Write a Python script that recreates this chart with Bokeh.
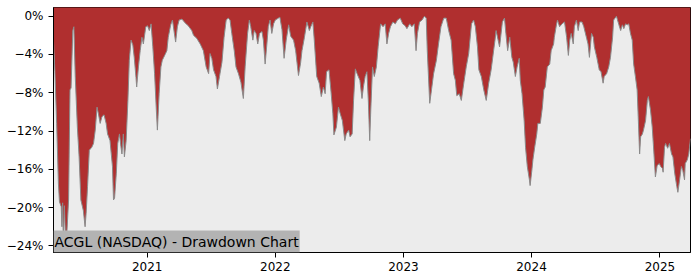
import pandas as pd
from bokeh.plotting import figure
from bokeh.models import ColumnDataSource, Range1d, FixedTicker, Label, DatetimeTickFormatter
from bokeh.embed import file_html
from bokeh.resources import INLINE

title_text = "ACGL (NASDAQ) - Drawdown Chart"

dates = [
    "2020-04-09", "2020-04-13", "2020-04-18", "2020-04-23", "2020-04-26", "2020-05-01", "2020-05-03",
    "2020-05-05", "2020-05-07", "2020-05-10", "2020-05-14", "2020-05-17", "2020-05-22", "2020-05-26",
    "2020-05-29", "2020-06-03", "2020-06-06", "2020-06-10", "2020-06-16", "2020-06-21", "2020-06-26",
    "2020-07-03", "2020-07-08", "2020-07-11", "2020-07-15", "2020-07-20", "2020-07-27", "2020-08-01",
    "2020-08-06", "2020-08-11", "2020-08-15", "2020-08-20", "2020-08-25", "2020-08-31", "2020-09-06",
    "2020-09-10", "2020-09-17", "2020-09-24", "2020-09-27", "2020-09-30", "2020-10-05", "2020-10-09",
    "2020-10-14", "2020-10-18", "2020-10-21", "2020-10-25", "2020-10-28", "2020-11-02", "2020-11-07",
    "2020-11-11", "2020-11-16", "2020-11-21", "2020-11-25", "2020-11-30", "2020-12-02", "2020-12-07",
    "2020-12-12", "2020-12-17", "2020-12-21", "2020-12-28",
    "2021-01-02", "2021-01-07", "2021-01-12", "2021-01-17", "2021-01-22", "2021-01-27", "2021-01-30",
    "2021-02-04", "2021-02-09", "2021-02-13", "2021-02-21", "2021-02-26", "2021-03-02", "2021-03-09",
    "2021-03-14", "2021-03-19", "2021-03-23", "2021-03-28", "2021-04-02", "2021-04-10", "2021-04-19",
    "2021-04-28", "2021-05-08", "2021-05-13", "2021-05-22", "2021-06-01", "2021-06-10", "2021-06-18",
    "2021-06-25", "2021-06-29", "2021-07-04", "2021-07-09", "2021-07-16", "2021-07-20", "2021-07-26",
    "2021-08-02", "2021-08-08", "2021-08-14", "2021-08-20", "2021-08-25", "2021-08-30", "2021-09-06",
    "2021-09-11", "2021-09-18", "2021-09-25", "2021-10-02", "2021-10-07", "2021-10-14", "2021-10-19",
    "2021-10-23", "2021-10-29", "2021-11-02", "2021-11-07", "2021-11-12", "2021-11-17", "2021-11-24",
    "2021-11-28", "2021-12-03", "2021-12-08", "2021-12-12", "2021-12-17", "2021-12-22", "2021-12-27",
    "2022-01-01", "2022-01-10", "2022-01-14", "2022-01-20", "2022-01-26", "2022-02-01", "2022-02-08",
    "2022-02-14", "2022-02-22", "2022-02-28", "2022-03-08", "2022-03-14", "2022-03-18", "2022-03-25",
    "2022-04-01", "2022-04-08", "2022-04-12", "2022-04-18", "2022-04-22", "2022-04-29", "2022-05-06",
    "2022-05-12", "2022-05-18", "2022-05-23", "2022-05-27", "2022-06-03", "2022-06-09", "2022-06-14",
    "2022-06-17", "2022-06-24", "2022-06-30", "2022-07-05", "2022-07-11", "2022-07-18", "2022-07-22",
    "2022-07-29", "2022-08-02", "2022-08-08", "2022-08-12", "2022-08-17", "2022-08-22", "2022-08-30",
    "2022-09-05", "2022-09-09", "2022-09-14", "2022-09-19", "2022-09-23", "2022-09-27", "2022-09-30",
    "2022-10-05", "2022-10-10", "2022-10-16", "2022-10-21", "2022-10-28", "2022-11-04", "2022-11-10",
    "2022-11-15", "2022-11-20", "2022-11-25", "2022-12-02", "2022-12-09", "2022-12-15", "2022-12-23",
    "2022-12-30", "2023-01-06", "2023-01-11", "2023-01-19", "2023-01-25", "2023-02-01", "2023-02-06",
    "2023-02-10", "2023-02-16", "2023-02-23", "2023-03-02", "2023-03-07", "2023-03-10", "2023-03-17",
    "2023-03-22", "2023-03-28", "2023-04-05", "2023-04-11", "2023-04-18", "2023-04-26", "2023-05-03",
    "2023-05-10", "2023-05-17", "2023-05-24", "2023-05-29", "2023-06-02", "2023-06-09", "2023-06-15",
    "2023-06-22", "2023-06-29", "2023-07-06", "2023-07-14", "2023-07-20", "2023-07-25", "2023-07-31",
    "2023-08-04", "2023-08-11", "2023-08-18", "2023-08-25", "2023-09-01", "2023-09-08", "2023-09-15",
    "2023-09-19", "2023-09-22", "2023-10-02", "2023-10-10", "2023-10-16", "2023-10-20", "2023-10-25",
    "2023-10-31", "2023-11-06", "2023-11-10", "2023-11-16", "2023-11-21", "2023-11-27", "2023-11-30",
    "2023-12-05", "2023-12-11", "2023-12-15", "2023-12-20", "2023-12-26", "2023-12-28",
    "2024-01-02", "2024-01-05", "2024-01-10", "2024-01-16", "2024-01-19", "2024-01-26", "2024-02-01",
    "2024-02-05", "2024-02-09", "2024-02-15", "2024-02-22", "2024-02-26", "2024-03-04", "2024-03-06",
    "2024-03-12", "2024-03-15", "2024-03-21", "2024-03-28", "2024-04-04", "2024-04-10", "2024-04-15",
    "2024-04-19", "2024-04-23", "2024-04-29", "2024-05-02", "2024-05-08", "2024-05-13", "2024-05-17",
    "2024-05-24", "2024-05-29", "2024-06-06", "2024-06-10", "2024-06-14", "2024-06-20", "2024-06-25",
    "2024-06-28", "2024-07-05", "2024-07-12", "2024-07-17", "2024-07-23", "2024-07-26", "2024-08-02",
    "2024-08-08", "2024-08-13", "2024-08-19", "2024-08-22", "2024-08-30", "2024-09-06", "2024-09-11",
    "2024-09-16", "2024-09-20", "2024-09-25", "2024-09-30", "2024-10-04", "2024-10-09", "2024-10-14",
    "2024-10-18", "2024-10-23", "2024-10-28", "2024-10-31", "2024-11-04", "2024-11-07", "2024-11-12",
    "2024-11-15", "2024-11-21", "2024-11-26", "2024-11-29", "2024-12-05", "2024-12-10", "2024-12-13",
    "2024-12-19", "2024-12-24", "2024-12-30", "2025-01-03", "2025-01-08", "2025-01-10", "2025-01-14",
    "2025-01-17", "2025-01-23", "2025-01-28", "2025-02-03", "2025-02-07", "2025-02-12", "2025-02-18",
    "2025-02-21", "2025-02-26", "2025-03-03", "2025-03-07", "2025-03-12", "2025-03-14", "2025-03-20",
    "2025-03-24", "2025-03-29",
]

drawdown = [
    -2.6, -5.8, -11.2, -17.5, -19.4, -19.9, -22.0,
    -19.5, -23.4, -19.8, -24.1, -22.7, -19.2, -7.7,
    -7.5, -1.5, -1.1, -6.3, -11.6, -14.7, -19.2,
    -20.3, -22.0, -20.6, -17.8, -14.0, -13.7, -13.3,
    -11.9, -9.5, -10.2, -11.2, -10.5, -10.3, -11.2,
    -12.3, -13.0, -15.7, -19.2, -19.0, -16.4, -13.3,
    -12.3, -13.6, -14.4, -12.3, -14.7, -13.0, -8.8,
    -4.6, -2.5, -3.0, -4.3, -6.4, -7.4, -5.3,
    -3.6, -2.2, -2.9, -1.1,
    -1.0, -1.5, -0.8, -3.2, -6.0, -9.8, -11.9,
    -8.1, -5.3, -4.6, -4.0, -3.6, -2.2, -0.9,
    -0.4, -1.7, -2.7, -1.1, -0.4, -0.3, -0.7,
    -1.0, -1.5, -2.0, -2.3, -2.9, -3.6, -5.3,
    -6.0, -3.9, -4.4, -5.6, -6.3, -7.6, -6.3,
    -4.8, -2.2, -0.4, -0.2, -0.4, -1.8, -3.6,
    -5.3, -6.0, -6.9, -8.6, -5.3, -1.8, -0.4,
    -1.1, -2.5, -1.5, -1.8, -2.9, -1.8, -1.6,
    -2.5, -5.0, -2.9, -1.1, -0.4, -1.8, -0.8,
    -0.4, -0.2, -0.1, -1.4, -4.4, -2.5, -0.9,
    -2.1, -2.5, -3.6, -6.2, -4.9, -3.6, -2.2,
    -0.6, -1.5, -1.1, -0.6, -2.5, -6.3, -7.0,
    -8.4, -7.4, -8.1, -5.8, -5.6, -8.0, -10.2,
    -12.4, -11.6, -9.5, -10.2, -10.9, -13.0, -12.3,
    -11.9, -12.6, -12.3, -8.8, -5.5, -6.0, -6.7,
    -8.6, -7.4, -6.3, -5.8, -8.8, -13.0, -9.8,
    -5.3, -6.3, -5.3, -3.2, -0.8, -1.1, -0.8,
    -2.9, -1.8, -1.1, -0.6, -0.8, -0.4, -0.2,
    -0.8, -1.0, -1.3, -0.8, -1.1, -0.8, -3.6,
    -1.8, -0.6, -0.4, 0.0, -0.2, -3.6, -9.1,
    -7.7, -6.0, -4.6, -2.9, -1.1, -0.2, -0.2,
    -1.5, -2.5, -6.0, -6.7, -8.3, -8.1, -8.8,
    -7.0, -5.3, -3.9, -0.8, -0.4, -1.1, -3.2,
    -5.6, -6.3, -7.7, -8.8, -7.0, -5.6, -3.6,
    -2.5, -1.5, -3.2, -0.6, -0.2, -1.8, -3.6,
    -2.2, -4.3, -4.8, -6.3, -5.3, -4.4, -6.7,
    -8.1, -10.9, -13.7, -15.7, -17.1, -17.7,
    -16.1, -15.0, -13.7, -12.3, -11.2, -11.2, -9.5,
    -7.7, -7.4, -5.3, -5.0, -3.6, -2.9, -2.2,
    -0.9, -0.4, -1.1, -0.8, -0.6, -2.2, -4.1,
    -2.5, -1.8, -2.9, -1.1, -0.4, -1.5, -0.6,
    -0.6, -1.1, -2.3, -2.9, -4.3, -1.8, -2.2,
    -3.2, -4.3, -5.6, -5.8, -7.0, -6.3, -6.0,
    -5.3, -4.3, -2.2, -0.4, 0.0, -0.9, -1.5,
    -0.9, -1.3, -0.8, -0.9, -0.8, -1.8, -2.5,
    -5.0, -6.3, -7.7, -10.5, -14.4, -12.6, -12.3,
    -11.9, -10.9, -8.8, -8.4, -9.8, -11.6, -13.3,
    -16.8, -15.6, -15.4, -15.7, -15.9, -16.3, -13.7,
    -13.3, -13.8, -13.3, -14.4, -14.7, -16.4, -17.8,
    -18.4, -17.1, -15.7, -16.1, -17.1, -15.4, -15.0,
    -14.4, -12.8,
]

year_ticks = ["2021-01-01", "2022-01-01", "2023-01-01", "2024-01-01", "2025-01-01"]
y_ticks = [0, -4, -8, -12, -16, -20, -24]
y_labels = ["0%", "\u22124%", "\u22128%", "\u221212%", "\u221216%", "\u221220%", "\u221224%"]

Y_MIN, Y_MAX = -24.69, 0.91
FILL_TOP = 5.0

dt = pd.to_datetime(dates)
src = ColumnDataSource(dict(date=dt, dd=drawdown))

x0 = dt[0].timestamp() * 1000
x1 = dt[-1].timestamp() * 1000

p = figure(width=700, height=280, x_axis_type="datetime", output_backend="svg",
           toolbar_location=None, x_range=Range1d(x0, x1), y_range=Range1d(Y_MIN, Y_MAX),
           min_border_left=53, min_border_right=10, min_border_top=7, min_border_bottom=28)

p.background_fill_color = "#ececec"
p.border_fill_color = "white"
p.outline_line_color = "black"
p.outline_line_width = 1
p.grid.visible = False

p.varea(x="date", y1="dd", y2=FILL_TOP, source=src, fill_color="#b02f2f")
p.line(x="date", y="dd", source=src, line_color="#8a8a8a", line_width=1)

p.xaxis.ticker = FixedTicker(ticks=[t.timestamp() * 1000 for t in pd.to_datetime(year_ticks)])
p.xaxis.formatter = DatetimeTickFormatter(years="%Y", months="%Y", days="%Y", hours="%Y",
                                          hourmin="%Y", minutes="%Y", minsec="%Y", seconds="%Y",
                                          milliseconds="%Y", microseconds="%Y")
p.yaxis.ticker = FixedTicker(ticks=y_ticks)
p.yaxis.major_label_overrides = {t: l for t, l in zip(y_ticks, y_labels)}

for ax in (p.xaxis[0], p.yaxis[0]):
    ax.axis_line_color = "black"
    ax.major_tick_line_color = "black"
    ax.major_tick_in = 0
    ax.major_tick_out = 5
    ax.minor_tick_line_color = None
    ax.major_label_text_font = "DejaVu Sans"
    ax.major_label_text_font_size = "12px"
    ax.major_label_text_color = "black"
p.xaxis.major_label_standoff = 4
p.yaxis.major_label_standoff = 5

lbl = Label(x=x0, y=Y_MIN, x_units="data", y_units="data", text=title_text,
            text_font="DejaVu Sans", text_font_size="14px", text_color="black",
            background_fill_color="#b3b3b3", padding=(1, 3), anchor="bottom_left")
p.add_layout(lbl)

open("out.html", "w").write(file_html(p, INLINE))
